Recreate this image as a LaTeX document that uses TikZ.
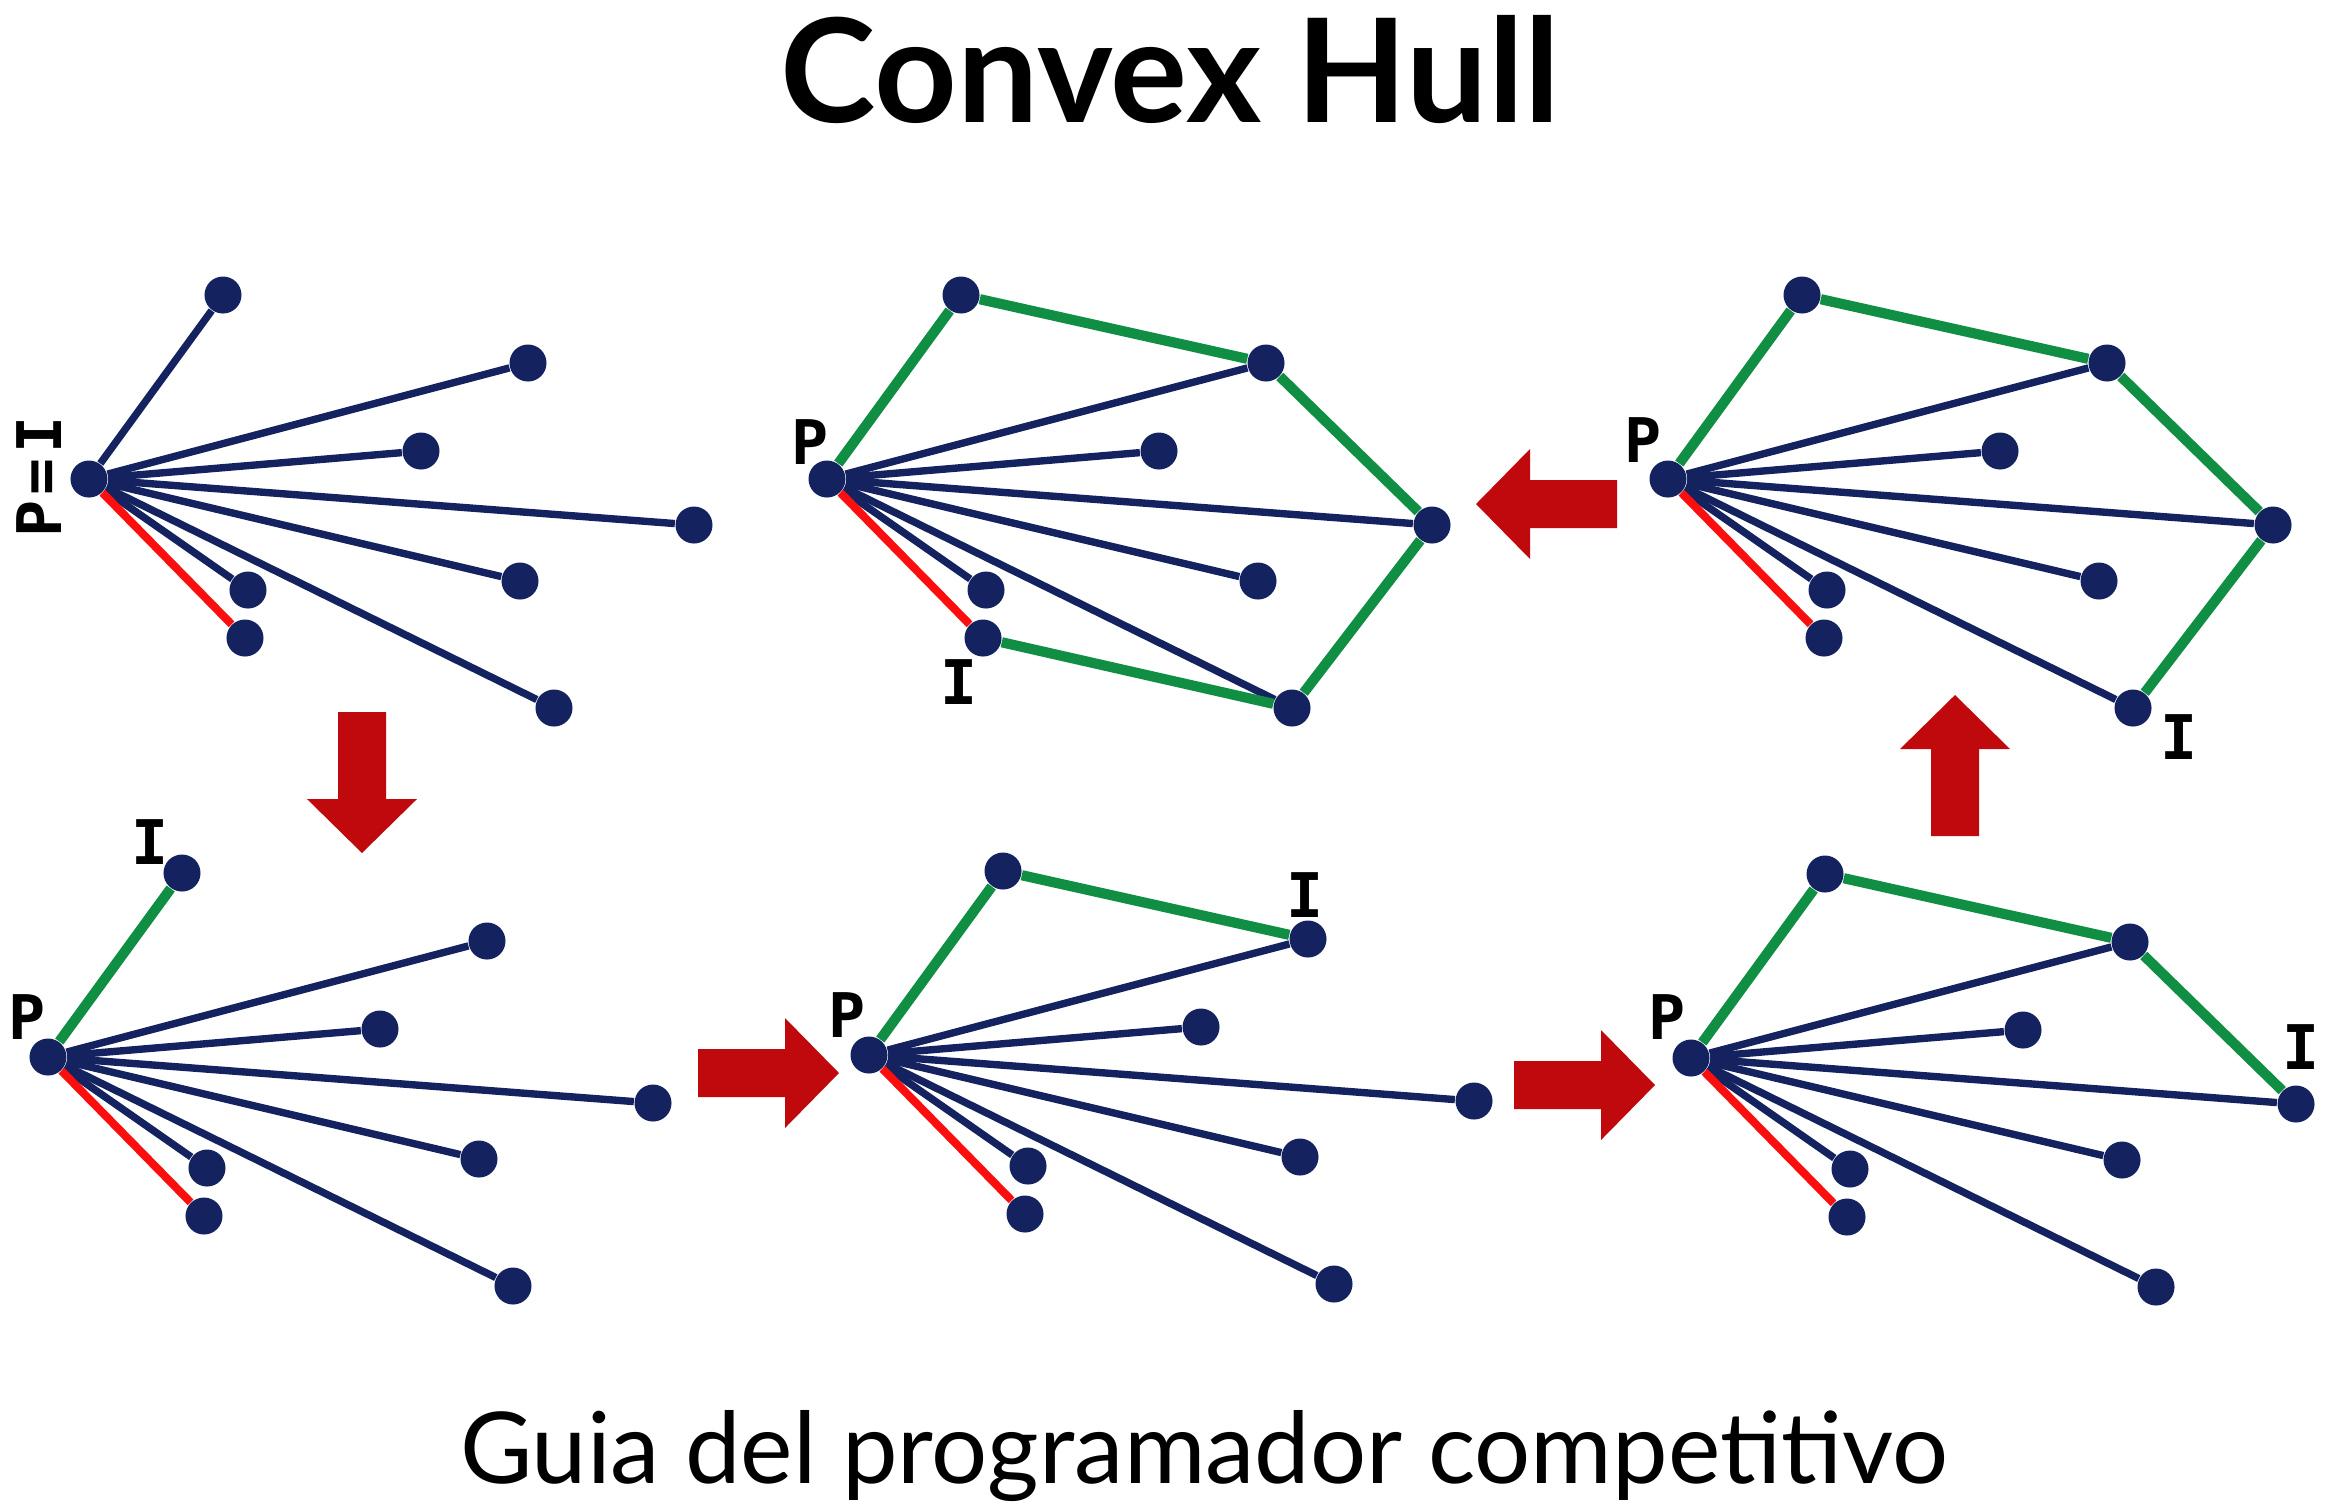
\documentclass[tikz,border=0pt]{standalone}
\usepackage{fontspec}
\setmainfont{Lato}
\newfontfamily\mano{DejaVu Sans Mono}
\definecolor{navy}{RGB}{20,35,95}
\definecolor{hullG}{RGB}{16,142,68}
\definecolor{lineR}{RGB}{250,14,14}
\definecolor{arrR}{RGB}{192,9,12}
\tikzset{
  punto/.style={circle,fill=navy,inner sep=0pt,minimum size=0.37cm},
  azul/.style={navy,line width=2.1pt},
  verde/.style={hullG,line width=2.9pt},
  rojo/.style={lineR,line width=2.3pt},
  etq/.style={font=\mano\bfseries\fontsize{17.5}{20}\selectfont,inner sep=0pt},
  flecha/.pic={\fill[arrR] (0,-24) -- (87,-24) -- (87,-55) -- (141,0) -- (87,55) -- (87,24) -- (0,24) -- cycle;}
}
% the nine points of one step, #1 = prefix of the names
\newcommand\puntos[1]{%
  \node[punto] (#1P) at (0,0) {};
  \foreach \n/\x/\y in {a/134/-184,b/439/-116,c/332/-28,d/605/46,e/431/102,f/159/111,g/156/159,h/465/229}
    \node[punto] (#1\n) at (\x,\y) {};
}

\begin{document}
\begin{tikzpicture}[x=0.01cm,y=-0.01cm]
\useasboundingbox (0,0) rectangle (2337,1505);
\node[font=\fontsize{41}{48}\selectfont\bfseries,anchor=base] (titulo) at (1170,122) {Convex Hull};
% step 1: P = I
\begin{scope}[shift={(89,479)}]
\puntos{u}
\foreach \n in {a,b,c,d,e,f,h} \draw[azul] (uP) -- (u\n);
\draw[rojo] (uP) -- (ug);
\node[etq,rotate=90] (uPI) at (-50,-2) {P\kern1.5pt=\kern1.5pt I};
\end{scope}
% step 2
\begin{scope}[shift={(48,1057)}]
\puntos{d}
\foreach \n in {b,c,d,e,f,h} \draw[azul] (dP) -- (d\n);
\draw[rojo] (dP) -- (dg);
\draw[verde] (dP) -- (da);
\node[etq] (dlP) at (-21,-40) {P};
\node[etq] (dlI) at (102,-215) {I};
\end{scope}
% step 3
\begin{scope}[shift={(869,1055)}]
\puntos{t}
\foreach \n in {b,c,d,e,f,h} \draw[azul] (tP) -- (t\n);
\draw[rojo] (tP) -- (tg);
\draw[verde] (tP) -- (ta) -- (tb);
\node[etq] (tlP) at (-22,-40) {P};
\node[etq] (tlI) at (436,-160) {I};
\end{scope}
% step 4
\begin{scope}[shift={(1691,1058)}]
\puntos{c}
\foreach \n in {b,c,d,e,f,h} \draw[azul] (cP) -- (c\n);
\draw[rojo] (cP) -- (cg);
\draw[verde] (cP) -- (ca) -- (cb) -- (cd);
\node[etq] (clP) at (-24,-41) {P};
\node[etq] (clI) at (610,-11) {I};
\end{scope}
% step 5
\begin{scope}[shift={(1668,479)}]
\puntos{q}
\foreach \n in {b,c,d,e,f,h} \draw[azul] (qP) -- (q\n);
\draw[rojo] (qP) -- (qg);
\draw[verde] (qP) -- (qa) -- (qb) -- (qd) -- (qh);
\node[etq] (qlP) at (-25,-39) {P};
\node[etq] (qlI) at (511,258) {I};
\end{scope}
% step 6: back at the start
\begin{scope}[shift={(827,479)}]
\puntos{s}
\foreach \n in {b,c,d,e,f,h} \draw[azul] (sP) -- (s\n);
\draw[rojo] (sP) -- (sg);
\draw[verde] (sP) -- (sa) -- (sb) -- (sd) -- (sh) -- (sg);
\node[etq] (slP) at (-17,-37) {P};
\node[etq] (slI) at (132,203) {I};
\end{scope}
% arrows between the steps
\pic[rotate=-90] at (362,712) {flecha};
\pic at (698,1073) {flecha};
\pic at (1514,1085) {flecha};
\pic[rotate=90] at (1955,836) {flecha};
\pic[rotate=180] at (1617,504) {flecha};
\node[font=\fontsize{28.2}{34}\selectfont,anchor=base] (pie) at (1204,1483) {Guia del programador competitivo};
\end{tikzpicture}
\end{document}
